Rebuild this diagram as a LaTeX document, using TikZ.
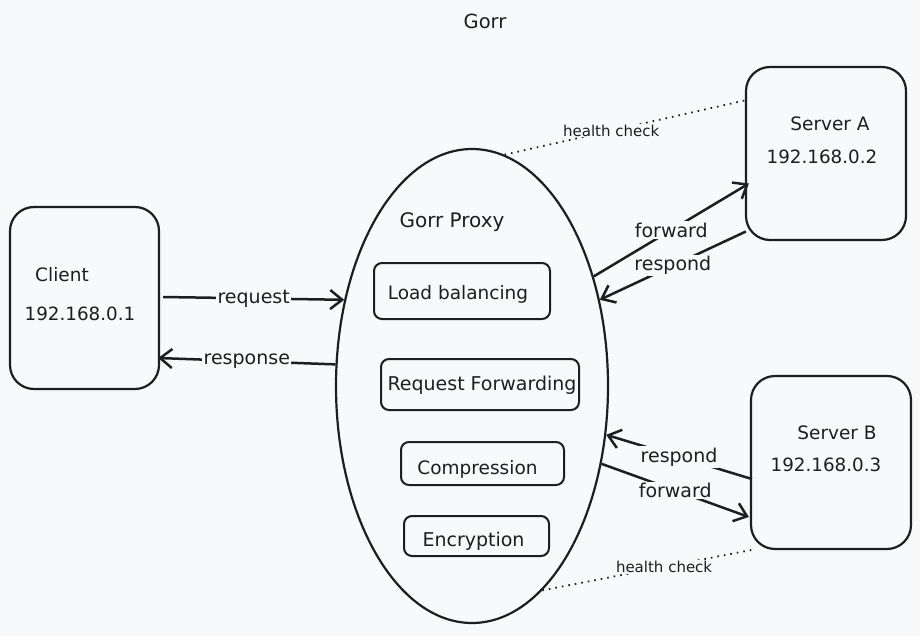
\documentclass[tikz,border=0pt]{standalone}
\usepackage{fontspec}
\setmainfont{DejaVu Sans}
\usetikzlibrary{shapes.geometric,arrows.meta}
\definecolor{bg}{RGB}{248,249,250}
\definecolor{ink}{RGB}{30,30,30}
\newcommand\myfs[1]{\fontsize{#1}{#1}\selectfont}
\begin{document}
\begin{tikzpicture}[x=1pt,y=-1pt,
  bigbox/.style={draw=ink,line width=2.2pt,rounded corners=24pt,minimum width=160pt,minimum height=173pt,inner sep=0pt},
  feat/.style={draw=ink,line width=2pt,rounded corners=8pt,inner sep=0pt},
  txt/.style={inner sep=0pt,text=ink,font=\myfs{18.5}},
  ip/.style={inner sep=0pt,text=ink,font=\myfs{18.3}},
  conn/.style={draw=ink,line width=2.5pt,-{Straight Barb[length=12pt,width=19pt]}},
  lbl/.style={fill=bg,inner sep=1.5pt,text=ink,font=\myfs{19}},
  hc/.style={draw=ink,line width=1.8pt,dash pattern=on 1.6pt off 5pt},
  hclbl/.style={fill=bg,inner sep=1pt,text=ink,font=\myfs{15}}]
\fill[bg] (0,0) rectangle (920,636);
\useasboundingbox (0,0) rectangle (920,636);

\node[txt,font=\myfs{19.5}] (title) at (485,21) {Gorr};

% client
\node[bigbox,minimum width=149pt,minimum height=182pt] (client) at (84.5,298) {};
\node[txt] (clientname) at (62,275) {Client};
\node[ip] (clientip) at (80,314) {192.168.0.1};

% servers
\node[bigbox] (srvA) at (826,153.5) {};
\node[txt] (srvAname) at (830,124) {Server A};
\node[ip] (srvAip) at (822,157) {192.168.0.2};

\node[bigbox] (srvB) at (831,462.5) {};
\node[txt] (srvBname) at (837,433) {Server B};
\node[ip] (srvBip) at (826,465) {192.168.0.3};

% proxy
\node[ellipse,draw=ink,line width=2.2pt,minimum width=272pt,minimum height=474pt,inner sep=0pt] (proxy) at (472,386) {};
\node[txt,font=\myfs{20}] (proxyname) at (452,222) {Gorr Proxy};
\node[feat,minimum width=176pt,minimum height=56pt,label={[txt,xshift=-4pt,yshift=-3pt]center:Load balancing}] (lb) at (462,291) {};
\node[feat,minimum width=198pt,minimum height=51pt,label={[txt,font=\myfs{19},xshift=2pt,yshift=-1pt]center:Request Forwarding}] (rf) at (480,384.5) {};
\node[feat,minimum width=163pt,minimum height=43pt,label={[txt,xshift=-5pt,yshift=-6pt]center:Compression}] (comp) at (482.5,463.5) {};
\node[feat,minimum width=145pt,minimum height=40pt,label={[txt,font=\myfs{19},xshift=-3pt,yshift=-5pt]center:Encryption}] (enc) at (476.5,536) {};

% client <-> proxy
\draw[conn] ([xshift=3pt,yshift=1pt]client.east) -- node[lbl] {request} (proxy.146);
\draw[conn] (proxy.171) -- node[lbl] {response} ([xshift=-2pt,yshift=-60pt]client.east);

% proxy <-> server A
\draw[conn] (proxy.42.6) -- node[lbl] {forward} ([xshift=4pt,yshift=-30pt]srvA.west);
\draw[conn] ([xshift=1pt,yshift=-78pt]srvA.west) -- node[lbl] {respond} (proxy.34.6);

% proxy <-> server B
\draw[conn] ([xshift=2pt,yshift=-16.5pt]srvB.west) -- node[lbl] {respond} (proxy.340.8);
\draw[conn] (proxy.329.5) -- node[lbl] {forward} ([xshift=-1pt,yshift=-54.5pt]srvB.west);

% health checks
\draw[hc] (proxy.82.9) -- node[hclbl,pos=0.44] {health check} ([xshift=2pt,yshift=53.5pt]srvA.west);
\draw[hc] (proxy.289.4) -- node[hclbl,pos=0.57] {health check} ([xshift=6pt,yshift=1pt]srvB.south west);
\end{tikzpicture}
\end{document}
